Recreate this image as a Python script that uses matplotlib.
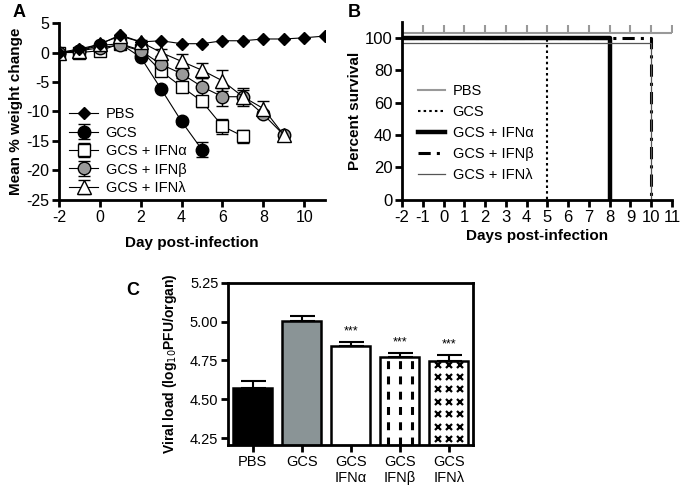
import matplotlib.pyplot as plt
import numpy as np

plt.rcParams['font.family'] = ['Liberation Sans', 'DejaVu Sans']
plt.rcParams['axes.unicode_minus'] = False

# ---- panel A: weight change ----
days = np.arange(-2, 12)
pbs_w = [0, 0.6, 1.4, 3.0, 1.8, 2.0, 1.5, 1.5, 2.0, 2.0, 2.3, 2.3, 2.5, 2.8]
gcs_w = [0, 0.3, 1.2, 1.5, -0.8, -6.2, -11.7, -16.5]
gcs_w_err = [0, 0, 0, 0, 0.3, 0.4, 0.5, 1.3]
ifna_w = [0, 0.0, 0.3, 1.5, 0.4, -3.2, -5.8, -8.3, -12.5, -14.2]
ifna_w_err = [0, 0, 0, 0, 0.3, 0.6, 0.5, 1.0, 1.3, 1.1]
ifnb_w = [0, 0.3, 0.8, 1.3, 0.3, -2.0, -3.6, -5.8, -7.5, -7.5, -10.5, -14.0]
ifnb_w_err = [0, 0, 0, 0, 0.3, 0.5, 0.7, 1.5, 1.5, 1.2, 0.5, 0.3]
ifnl_w = [0, 0.3, 1.5, 2.8, 1.8, 0.0, -1.5, -3.0, -4.8, -7.5, -9.5, -14.0]
ifnl_w_err = [0, 0, 0, 0, 0.3, 0.6, 1.2, 1.3, 1.8, 1.5, 1.3, 0.3]

# ---- panel B: survival ----
surv_labels = ['PBS', 'GCS', 'GCS + IFNα', 'GCS + IFNβ', 'GCS + IFNλ']
surv_days = [[-2, 11], [-2, 5], [-2, 8], [-2, 10], [-2, 10]]
surv_vals = [[100, 100], [100, 0], [100, 0], [100, 0], [100, 0]]

# ---- panel C: viral load ----
groups = ['PBS', 'GCS', 'GCS\nIFNα', 'GCS\nIFNβ', 'GCS\nIFNλ']
viral = [4.57, 5.005, 4.842, 4.775, 4.748]
viral_err = [0.045, 0.032, 0.025, 0.025, 0.035]
signif = ['', '', '***', '***', '***']

fig = plt.figure(figsize=(6.85, 4.91), dpi=100)

def style_axes(ax, size=11.5):
    for s in ['left', 'bottom']:
        ax.spines[s].set_linewidth(2)
    ax.tick_params(width=2, length=5, labelsize=size, pad=2)

# A
axA = fig.add_axes([0.086, 0.593, 0.388, 0.360])
axA.plot(days, pbs_w, '-', color='black', lw=0.8, marker='D', ms=6,
         mfc='black', mec='black', label='PBS', zorder=5)
series = [
    (gcs_w, gcs_w_err, 'o', 'black', 9, 'GCS'),
    (ifna_w, ifna_w_err, 's', 'white', 8, 'GCS + IFNα'),
    (ifnb_w, ifnb_w_err, 'o', '#999999', 9, 'GCS + IFNβ'),
    (ifnl_w, ifnl_w_err, '^', 'white', 10, 'GCS + IFNλ'),
]
for vals, err, mk, fc, ms, lab in series:
    x = days[:len(vals)]
    axA.errorbar(x, vals, yerr=err, fmt='-' + mk, color='black', lw=0.8,
                 mfc=fc, mec='black', mew=1, ms=ms, capsize=4, elinewidth=1,
                 capthick=1, label=lab, zorder=4)
axA.set_xlim(-2, 11)
axA.set_ylim(-25, 5)
axA.set_xticks(np.arange(-2, 11, 2))
axA.set_yticks(np.arange(-25, 6, 5))
axA.spines['top'].set_visible(False)
axA.spines['right'].set_visible(False)
style_axes(axA)
axA.set_xlabel('Day post-infection', fontsize=11, fontweight='bold', labelpad=8)
axA.set_ylabel('Mean % weight change', fontsize=11, fontweight='bold', labelpad=2)
hA, lA = axA.get_legend_handles_labels()
axA.legend(hA, lA, loc='lower left', bbox_to_anchor=(0.0, -0.03), frameon=False,
           fontsize=10.5, handlelength=2.0, labelspacing=0.3, borderpad=0.2,
           handletextpad=0.5)
fig.text(0.018, 0.965, 'A', fontsize=13, fontweight='bold')

# B
axB = fig.add_axes([0.587, 0.593, 0.394, 0.3625])
surv_styles = [
    dict(color='#999999', lw=1.5, ls='-', offset=3),
    dict(color='black', lw=1.5, ls=(0, (1.2, 1.5)), offset=0),
    dict(color='black', lw=3.2, ls='-', offset=0),
    dict(color='black', lw=2.2, ls=(0, (4, 2, 1, 2)), offset=0),
    dict(color='#555555', lw=0.9, ls='-', offset=-3),
]
for t, s, lab, st in zip(surv_days, surv_vals, surv_labels, surv_styles):
    yv = [v + st['offset'] if v > 0 else v for v in s]
    axB.step(t, yv, where='post', color=st['color'], lw=st['lw'],
             ls=st['ls'], label=lab)
# censor ticks on PBS line
pbs_ticks = np.arange(surv_days[0][0], surv_days[0][1] + 1)
axB.plot(pbs_ticks, np.full(len(pbs_ticks), surv_vals[0][0] + surv_styles[0]['offset']),
         ls='none', marker=2, ms=6, mew=1.5, color='#999999')
axB.set_xlim(-2, 11)
axB.set_ylim(0, 110)
axB.set_xticks(np.arange(-2, 12, 1))
axB.set_yticks(np.arange(0, 101, 20))
axB.spines['top'].set_visible(False)
axB.spines['right'].set_visible(False)
style_axes(axB, 12)
axB.set_xlabel('Days post-infection', fontsize=11, fontweight='bold', labelpad=3)
axB.set_ylabel('Percent survival', fontsize=11, fontweight='bold', labelpad=2)
axB.legend(loc='upper left', bbox_to_anchor=(0.02, 0.71), frameon=False,
           fontsize=10.5, handlelength=1.9, labelspacing=0.48, borderpad=0.2,
           handletextpad=0.5)
fig.text(0.508, 0.965, 'B', fontsize=13, fontweight='bold')

# C
axC = fig.add_axes([0.333, 0.0937, 0.358, 0.330])
xpos = np.arange(len(groups))
colors = ['black', '#8a9496', 'white', 'white', 'white']
ymin = 4.205
bars = axC.bar(xpos, viral, width=0.8, color=colors, edgecolor='black', lw=1.8,
               zorder=2)
# dashed-column fill for IFNβ bar
b = bars[3]
cols = b.get_x() + b.get_width() * np.array([0.2, 0.5, 0.8])
axC.vlines(cols, ymin, b.get_height() - 0.01, colors='black', lw=2.2,
           linestyles=[(0, (2.6, 2.4))], zorder=2.5)
# x-mark fill for IFNλ bar
b = bars[4]
cols = b.get_x() + b.get_width() * np.array([0.22, 0.5, 0.78])
rows = np.arange(b.get_height() - 0.025, ymin + 0.03, -0.08)
gx, gy = np.meshgrid(cols, rows)
axC.plot(gx.ravel(), gy.ravel(), ls='none', marker='x', ms=5, mew=1.6,
         color='black', zorder=2.5)
axC.errorbar(xpos, viral, yerr=[np.zeros(len(viral)), viral_err], fmt='none',
             ecolor='black', elinewidth=1.5, capsize=9, capthick=1.5, zorder=3)
for x, v, e, s in zip(xpos, viral, viral_err, signif):
    if s:
        axC.text(x, v + e + 0.03, s, ha='center', va='bottom', fontsize=9)
axC.set_xlim(-0.5, 4.5)
axC.set_ylim(ymin, 5.25)
axC.set_yticks([4.25, 4.50, 4.75, 5.00, 5.25])
axC.set_yticklabels(['4.25', '4.50', '4.75', '5.00', '5.25'])
axC.set_xticks(xpos)
axC.set_xticklabels(groups)
for s in ['top', 'right']:
    axC.spines[s].set_linewidth(2)
style_axes(axC, 10.5)
axC.set_ylabel('Viral load (log$_{10}$PFU/organ)', fontsize=10, fontweight='bold',
               labelpad=8)
fig.text(0.185, 0.40, 'C', fontsize=13, fontweight='bold')

fig.savefig('out.png', dpi=100)
